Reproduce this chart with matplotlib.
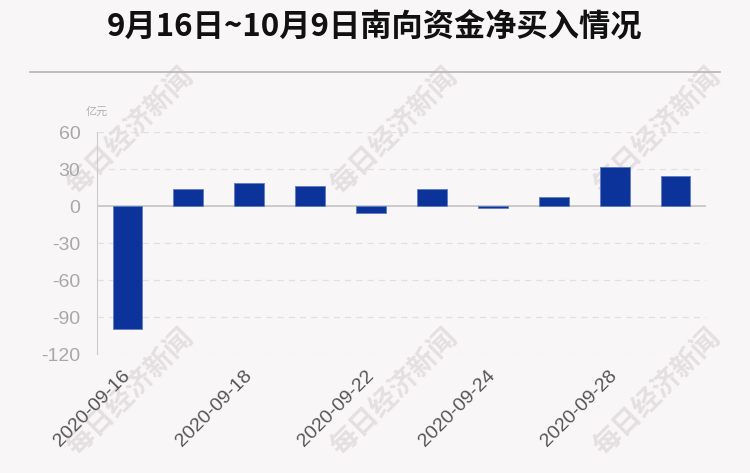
import matplotlib
matplotlib.use('Agg')
import matplotlib.pyplot as plt
import matplotlib.lines as lines

plt.rcParams['font.family'] = ['Liberation Sans', 'Noto Sans CJK SC', 'DejaVu Sans']

dates = ['2020-09-16', '2020-09-17', '2020-09-18', '2020-09-21', '2020-09-22',
         '2020-09-23', '2020-09-24', '2020-09-25', '2020-09-28', '2020-09-29']
net_buy = [-99.8, 13.8, 18.6, 16.2, -5.6, 13.9, -1.6, 7.3, 31.6, 24.2]
y_ticks = [-120, -90, -60, -30, 0, 30, 60]

BG = '#f9f6f7'
W, H = 750, 473

fig = plt.figure(figsize=(7.5, 4.73), dpi=100, facecolor=BG)

# watermarks
for (px, py) in [(131, 132), (395, 132), (658, 132), (131, 393), (395, 393), (658, 393)]:
    fig.text(px / W, 1 - py / H, '每日经济新闻', rotation=45, fontsize=20, color='#e4e0e1',
             ha='center', va='center', weight='bold',
             family=['Noto Sans CJK SC'], zorder=0)

fig.text(0.5, 1 - 28 / H, '9月16日~10月9日南向资金净买入情况', ha='center', va='center',
         fontsize=22.5, weight='bold', color='#111111', family=['Noto Sans CJK SC'])
fig.add_artist(lines.Line2D([30 / W, 720 / W], [1 - 72 / H, 1 - 72 / H], color='#b5b5b5', lw=1.2))

ax = fig.add_axes([97 / W, 1 - 354 / H, 609 / W, 222 / H])
ax.set_facecolor('none')
ax.set_zorder(2)

x = list(range(len(dates)))
ax.bar(x, net_buy, width=0.49, color='#0c3399', edgecolor='#5f7cc4', linewidth=0.6, zorder=3)

ax.set_xlim(-0.5, len(dates) - 0.5)
ax.set_ylim(-120, 60)
ax.set_yticks(y_ticks)
ax.set_yticklabels([str(v) for v in y_ticks], fontsize=14, color='#a8a8a8')
for v in y_ticks:
    if v != 0:
        ax.axhline(v, color='#e2dfe0', lw=0.9, ls=(0, (5, 4)), zorder=1)
ax.axhline(0, color='#c4c2c3', lw=1.2, zorder=2)

ax.set_xticks(x[::2])
ax.set_xticklabels(dates[::2], rotation=45, ha='right', va='center', rotation_mode='anchor',
                   fontsize=14, color='#555555')
ax.tick_params(axis='both', length=0)
ax.tick_params(axis='x', pad=14)
ax.tick_params(axis='y', pad=12)

for s in ['top', 'right', 'bottom']:
    ax.spines[s].set_visible(False)
ax.spines['left'].set_color('#cccccc')

fig.text(97 / W, 1 - 112 / H, '亿元', ha='center', va='center', fontsize=8,
         color='#b0b0b0', family=['Noto Sans CJK SC'])

fig.savefig('out.png', dpi=100, facecolor=BG)
